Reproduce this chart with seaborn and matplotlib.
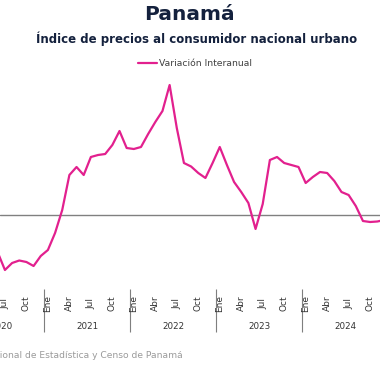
import pandas as pd
import matplotlib
matplotlib.use('Agg')
import matplotlib.pyplot as plt
import seaborn as sns

# Variacion interanual del IPC nacional urbano de Panama (%), jun 2020 - dic 2024
meses = pd.period_range('2020-06', '2024-12', freq='M')
variacion = [
    -1.5, -2.2, -1.92, -1.82, -1.88, -2.04, -1.64,                      # 2020 jun-dic
    -1.4, -0.72, 0.2, 1.6, 1.92, 1.6, 2.32, 2.4, 2.44, 2.8, 3.36, 2.68,  # 2021
    2.64, 2.72, 3.24, 3.72, 4.16, 5.2, 3.48, 2.08, 1.94, 1.68, 1.48, 2.08,  # 2022
    2.72, 2.0, 1.32, 0.92, 0.48, -0.56, 0.44, 2.2, 2.32, 2.08, 2.0, 1.92,   # 2023
    1.28, 1.52, 1.72, 1.68, 1.36, 0.92, 0.8, 0.36, -0.24, -0.28, -0.26, -0.2,  # 2024
]
anios = [2020, 2021, 2022, 2023, 2024]
nombres_mes = {1: 'Ene', 4: 'Abr', 7: 'Jul', 10: 'Oct'}

df = pd.DataFrame({'fecha': meses, 'variacion': variacion})
# indice de mes, 0 = enero 2021
df['mes'] = (df['fecha'].dt.year - 2021) * 12 + df['fecha'].dt.month - 1

sns.set_theme(style='white')
plt.rcParams['font.family'] = ['DejaVu Sans']

W, H = 380, 372
fig = plt.figure(figsize=(W / 100, H / 100), dpi=100)
ax = fig.add_axes([0, (H - 285) / H, 1, 210 / H])

sns.lineplot(data=df, x='mes', y='variacion', ax=ax, color='#E2208E', lw=1.6,
             label='Variación Interanual')
ax.axhline(0, color='#808080', lw=1, zorder=1)

ax.set_xlabel('')
ax.set_ylabel('')
ax.set_yticks([])
for s in ax.spines.values():
    s.set_visible(False)

# etiquetas de meses (Ene, Abr, Jul, Oct)
ticks, labels = [], []
for a in anios:
    for m, nom in nombres_mes.items():
        ticks.append((a - 2021) * 12 + m - 1)
        labels.append(nom)
ax.set_xticks(ticks, labels=labels)
ax.tick_params(axis='x', length=0, pad=13, labelsize=6.5, labelcolor='#333333',
               labelrotation=90)
for t in ax.get_xticklabels():
    t.set_verticalalignment('center')

# separadores de anio y etiquetas de anio
sec = ax.secondary_xaxis(location=-4 / 210)
separadores = [(a - 2021) * 12 - 0.5 for a in anios + [2025]]
centros = [(a - 2021) * 12 + 5.5 for a in anios]
sec.set_xticks(separadores, labels=[''] * len(separadores))
sec.set_xticks(centros, labels=[str(a) for a in anios], minor=True)
sec.tick_params(axis='x', which='major', length=31, width=0.8, color='#7f7f7f')
sec.tick_params(axis='x', which='minor', length=0, pad=24, labelsize=6.3,
                labelcolor='#333333')
sec.spines['bottom'].set_visible(False)

# vista recortada: de jun 2020 a nov 2024
ax.set_xlim(-6.69, 46.38)
ax.set_ylim(-2.8, 5.6)

ax.legend(loc='center', bbox_to_anchor=(195 / W, 1 - 64 / H),
          bbox_transform=fig.transFigure, frameon=False, handlelength=2.0,
          handletextpad=0.15, fontsize=6.7, labelcolor='#404040')

fig.text(189 / W, 1 - 20 / H, 'Panamá', ha='center', va='baseline',
         fontsize=14.5, fontweight='bold', color='#14213D')
fig.text(197 / W, 1 - 43 / H, 'Índice de precios al consumidor nacional urbano',
         ha='center', va='baseline', fontsize=8.5, fontweight='bold', color='#14213D')
fig.text(183 / W, 1 - 356 / H,
         'Fuente: Instituto Nacional de Estadística y Censo de Panamá',
         ha='right', va='center', fontsize=6.6, color='#9a9a9a')

fig.savefig('out.png', dpi=100)
